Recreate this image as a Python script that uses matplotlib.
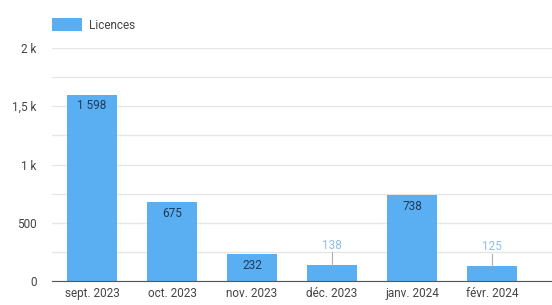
import matplotlib.pyplot as plt
from matplotlib.ticker import FixedLocator

plt.rcParams['font.family'] = ['Roboto', 'DejaVu Sans']

months = ["sept. 2023", "oct. 2023", "nov. 2023", "déc. 2023", "janv. 2024", "févr. 2024"]
licences = [1598, 675, 232, 138, 738, 125]
ytick_vals = [0, 500, 1000, 1500, 2000]
ytick_text = ["0", "500", "1 k", "1,5 k", "2 k"]

bar_color = "#5aaef2"
fig = plt.figure(figsize=(5.52, 3.05), dpi=100)
ax = fig.add_axes([52 / 552, 24 / 305, 1 - 52 / 552, (281 - 48) / 305])

x = list(range(len(months)))
ax.bar(x, licences, width=0.62, color=bar_color, zorder=3, label="Licences")

ax.set_xlim(-0.5, 5.75)
ax.set_ylim(0, 2000)
ax.yaxis.set_major_locator(FixedLocator(ytick_vals))
ax.set_yticklabels(ytick_text)
ax.yaxis.set_minor_locator(FixedLocator(list(range(250, 2000, 500))))
ax.grid(axis="y", which="both", color="#e6e6e6", linewidth=1, zorder=0)
ax.set_xticks(x)
ax.set_xticklabels(months)
ax.tick_params(axis="both", which="both", length=0, labelsize=8.5, colors="#444444")
ax.tick_params(axis="y", pad=11)
ax.tick_params(axis="x", pad=4)
for s in ["top", "right", "left"]:
    ax.spines[s].set_visible(False)
ax.spines["bottom"].set_color("#555555")
ax.spines["bottom"].set_zorder(4)

# value labels
for xi, v in zip(x, licences):
    txt = f"{v:,}".replace(",", " ")
    if v > 200:
        ax.text(xi, v - 40, txt, ha="center", va="top", fontsize=8.5,
                color="#1f3b5a", zorder=5)
    else:
        ax.plot([xi, xi], [v, v + 110], color="#b0b0b0", linewidth=0.8, zorder=4)
        ax.text(xi, v + 115, txt, ha="center", va="bottom", fontsize=8.5,
                color="#8fbef0", zorder=5)

leg = ax.legend(loc="lower left", bbox_to_anchor=(0.0, 1.07), frameon=False,
                fontsize=8.5, handlelength=2.5, handleheight=1.3,
                borderaxespad=0, borderpad=0, handletextpad=0.6)
for t in leg.get_texts():
    t.set_color("#444444")

fig.savefig("out.png", dpi=100)
